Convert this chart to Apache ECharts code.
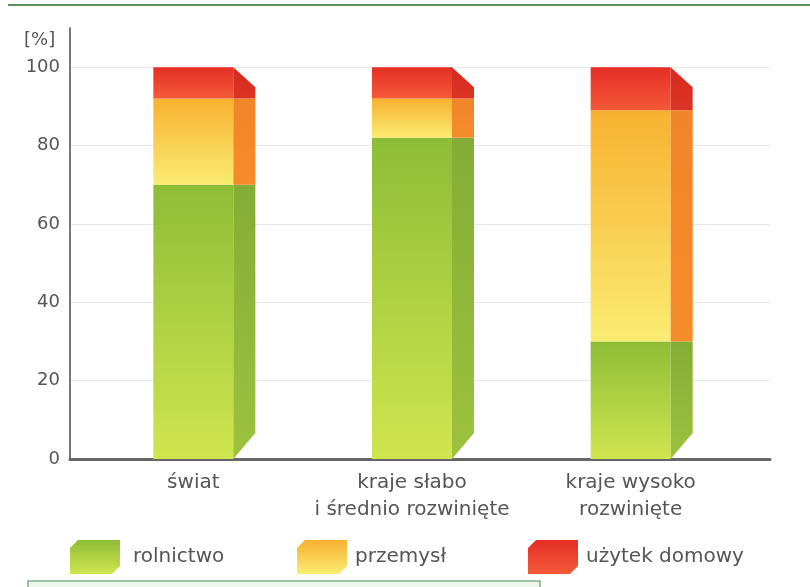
<!DOCTYPE html>
<html>
<head>
<meta charset="utf-8">
<script src="https://cdn.jsdelivr.net/npm/echarts@6/dist/echarts.min.js"></script>
<style>
  html, body { margin: 0; padding: 0; background: #fff; }
  #main { width: 810px; height: 587px; }
</style>
</head>
<body>
<div id="main"></div>
<script>
// values (percent of water use)
var categories = ['świat', 'kraje słabo\ni średnio rozwinięte', 'kraje wysoko\nrozwinięte'];
var rolnictwo = [70, 82, 30];
var przemysl = [22, 10, 59];
var uzytekDomowy = [8, 8, 11];
var yTicks = [0, 20, 40, 60, 80, 100];

var names = ['rolnictwo', 'przemysł', 'użytek domowy'];
var layers = [rolnictwo, przemysl, uzytekDomowy];

// colours: front gradient top/bottom, side face
var styles = [
    {top: '#8dbd37', bottom: '#d0e54e', side: '#84ad36', sideBottom: '#9cc23e'},
    {top: '#f8b12f', bottom: '#faec72', side: '#f1852a', sideBottom: '#f58c2a'},
    {top: '#e52e26', bottom: '#f45a38', side: '#d42a22', sideBottom: '#dc3524'}
];
var FONT = 'DejaVu Sans';

function grad(c1, c2) {
    return new echarts.graphic.LinearGradient(0, 0, 0, 1, [
        {offset: 0, color: c1}, {offset: 1, color: c2}
    ]);
}

// build stacked [cat, start, end] rows
var stacked = [];
var base = categories.map(function () { return 0; });
layers.forEach(function (arr, k) {
    stacked.push(arr.map(function (v, i) {
        var row = [i, base[i], base[i] + v];
        base[i] += v;
        return row;
    }));
});

var FRONT = 80, SIDE = 22;

function renderBar(k) {
    return function (params, api) {
        var i = api.value(0), y0 = api.value(1), y1 = api.value(2);
        var pB = api.coord([i, y0]);
        var pT = api.coord([i, y1]);
        var L = pB[0] - FRONT / 2, R = pB[0] + FRONT / 2;
        var yT = pT[1], yB = pB[1];
        var isTop = k === layers.length - 1;
        var isBottom = y0 === 0;
        var st = styles[k];
        return {
            type: 'group',
            children: [
                {
                    type: 'rect',
                    shape: {x: L, y: yT, width: FRONT, height: yB - yT},
                    style: {fill: grad(st.top, st.bottom)}
                },
                {
                    type: 'polygon',
                    shape: {points: [
                        [R, yT],
                        [R + SIDE, yT + (isTop ? 20 : 0)],
                        [R + SIDE, yB - (isBottom ? 26 : 0)],
                        [R, yB]
                    ]},
                    style: {fill: grad(st.side, st.sideBottom)}
                }
            ]
        };
    };
}

var cube = 'path://M0,8 L8,0 L50,0 L50,26 L42,34 L0,34 Z';

var series = layers.map(function (arr, k) {
    return {
        type: 'custom',
        name: names[k],
        xAxisIndex: 0,
        yAxisIndex: 0,
        renderItem: renderBar(k),
        itemStyle: {color: grad(styles[k].top, styles[k].bottom)},
        encode: {x: 0, y: [1, 2]},
        data: stacked[k],
        z: 3
    };
});

var legends = names.map(function (n, k) {
    return {
        data: [{name: n, icon: cube}],
        left: [70, 297, 528][k],
        top: 540,
        padding: 0,
        itemWidth: 50,
        itemHeight: 34,
        selectedMode: false,
        textStyle: {fontSize: 20, color: '#555', fontFamily: FONT, padding: [0, 0, 0, [8, 3, 3][k]]}
    };
});

var chart = echarts.init(document.getElementById('main'));
chart.setOption({
    animation: false,
    backgroundColor: '#fff',
    title: {
        text: '[%]', left: 24, top: 31, padding: 0,
        textStyle: {fontSize: 18, fontWeight: 'normal', color: '#555', fontFamily: FONT}
    },
    legend: legends,
    grid: [
        // bars + category labels
        {left: 84, width: 656, top: 28, bottom: 128},
        // axes lines, value labels, split lines
        {left: 70, right: 40, top: 28, bottom: 128}
    ],
    xAxis: [
        {
            type: 'category', gridIndex: 0, data: categories,
            axisLine: {show: false}, axisTick: {show: false},
            axisLabel: {interval: 0, hideOverlap: false, fontSize: 20, lineHeight: 27, color: '#555', margin: 10, fontFamily: FONT}
        },
        {
            type: 'value', gridIndex: 1, min: 0, max: 1,
            axisLine: {show: true, lineStyle: {color: '#666', width: 3}},
            axisTick: {show: false}, axisLabel: {show: false}, splitLine: {show: false}
        }
    ],
    yAxis: [
        {type: 'value', gridIndex: 0, min: 0, max: 110, show: false},
        {
            type: 'value', gridIndex: 1, min: 0, max: 110, interval: 20,
            axisLine: {show: true, lineStyle: {color: '#777', width: 2}},
            axisTick: {show: false},
            axisLabel: {
                fontSize: 18, color: '#555', margin: 10, fontFamily: FONT,
                formatter: function (v) { return yTicks.indexOf(v) >= 0 ? String(v) : ''; }
            },
            splitLine: {show: true, lineStyle: {color: ['#e8e8e8', '#e8e8e8', '#e8e8e8', '#e8e8e8', '#e8e8e8', '#e8e8e8', 'rgba(0,0,0,0)']}}
        }
    ],
    graphic: [
        {type: 'line', shape: {x1: 8, y1: 5, x2: 810, y2: 5}, style: {stroke: '#5d8f5d', lineWidth: 2}},
        {type: 'rect', shape: {x: 28, y: 581, width: 512, height: 20}, style: {fill: '#eef8ee', stroke: '#7fb07f', lineWidth: 1.5}}
    ],
    series: series
});
</script>
</body>
</html>
